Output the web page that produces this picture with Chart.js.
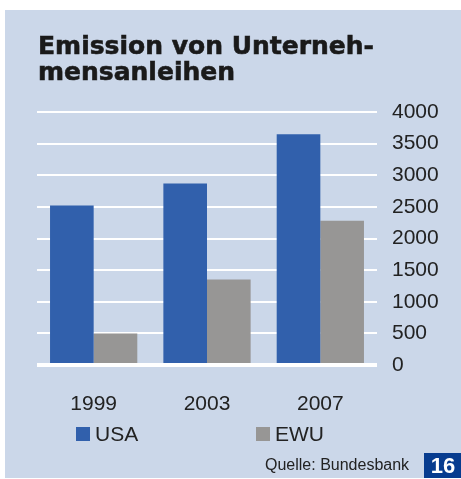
<!DOCTYPE html>
<html>
<head>
<meta charset="utf-8">
<script src="https://cdn.jsdelivr.net/npm/chart.js@4/dist/chart.umd.min.js"></script>
<style>
html,body{margin:0;padding:0;background:#fff;}
canvas{display:block;}
</style>
</head>
<body>
<canvas id="c" width="461" height="479"></canvas>
<script>
const categories = ['1999', '2003', '2007'];
const usaValues = [2520, 2870, 3650];
const ewuValues = [500, 1350, 2280];
const seriesNames = ['USA', 'EWU'];
const yTicks = [0, 500, 1000, 1500, 2000, 2500, 3000, 3500, 4000];
const titleLines = ['Emission von Unterneh-', 'mensanleihen'];
const sourceText = 'Quelle: Bundesbank';
const pageNumber = '16';

const PANEL = '#cbd7e9';
const BLUE = '#3160ac';
const GRAY = '#979695';
const TEXT = '#222222';

const decor = {
  id: 'decor',
  beforeDraw(chart) {
    const ctx = chart.ctx;
    ctx.save();
    ctx.fillStyle = '#ffffff';
    ctx.fillRect(0, 0, chart.width, chart.height);
    ctx.fillStyle = PANEL;
    ctx.fillRect(5, 10, chart.width - 5, chart.height - 11);
    // title
    ctx.fillStyle = '#1a1a1a';
    ctx.strokeStyle = '#1a1a1a';
    ctx.lineWidth = 0.6;
    ctx.font = 'bold 25px "DejaVu Sans"';
    ctx.textAlign = 'left';
    ctx.textBaseline = 'alphabetic';
    [[titleLines[0], 54], [titleLines[1], 80]].forEach(([t, y]) => {
      ctx.fillText(t, 38, y);
      ctx.strokeText(t, 38, y);
    });
    ctx.restore();
  },
  afterDraw(chart) {
    const ctx = chart.ctx;
    ctx.save();
    // legend
    const legendX = [76, 256];
    chart.data.datasets.forEach((ds, i) => {
      ctx.fillStyle = ds.backgroundColor;
      ctx.fillRect(legendX[i], 427, 14, 14);
      ctx.fillStyle = TEXT;
      ctx.font = '21px "Liberation Sans", Arial, sans-serif';
      ctx.textAlign = 'left';
      ctx.textBaseline = 'middle';
      ctx.fillText(ds.label, legendX[i] + 19, 435);
    });
    // source
    ctx.fillStyle = TEXT;
    ctx.font = '16px "Liberation Sans", Arial, sans-serif';
    ctx.textBaseline = 'alphabetic';
    ctx.fillText(sourceText, 265, 470);
    // page box
    ctx.fillStyle = '#073c8f';
    ctx.fillRect(424, 453, 37, 25);
    ctx.fillStyle = '#ffffff';
    ctx.font = 'bold 22px "Liberation Sans", Arial, sans-serif';
    ctx.textAlign = 'center';
    ctx.fillText(pageNumber, 443, 473);
    ctx.restore();
  }
};

new Chart(document.getElementById('c'), {
  type: 'bar',
  data: {
    labels: categories,
    datasets: [
      { label: seriesNames[0], data: usaValues, backgroundColor: BLUE, borderWidth: 0 },
      { label: seriesNames[1], data: ewuValues, backgroundColor: GRAY, borderWidth: 0 }
    ]
  },
  options: {
    responsive: false,
    animation: false,
    devicePixelRatio: 1,
    layout: { padding: { left: 37, top: 112, right: 0, bottom: 0 } },
    datasets: { bar: { categoryPercentage: 0.77, barPercentage: 1.0 } },
    plugins: {
      legend: { display: false },
      title: { display: false },
      tooltip: { enabled: false }
    },
    scales: {
      x: {
        grid: { display: false },
        border: { display: false },
        ticks: { padding: 19, color: TEXT, font: { size: 21, family: '"Liberation Sans", Arial, sans-serif' } },
        afterFit(scale) { scale.height = 114; }
      },
      y: {
        position: 'right',
        min: 0,
        max: 4000,
        afterBuildTicks(scale) { scale.ticks = yTicks.map(v => ({ value: v })); },
        ticks: {
          crossAlign: 'near',
          padding: 15,
          color: TEXT,
          font: { size: 21, family: '"Liberation Sans", Arial, sans-serif' },
          callback: v => String(v)
        },
        grid: {
          color: '#ffffff',
          lineWidth: ctx => (ctx.tick && ctx.tick.value === 0 ? 4 : 2),
          drawTicks: false
        },
        border: { display: false },
        afterFit(scale) { scale.width = 84; }
      }
    }
  },
  plugins: [decor]
});
</script>
</body>
</html>
